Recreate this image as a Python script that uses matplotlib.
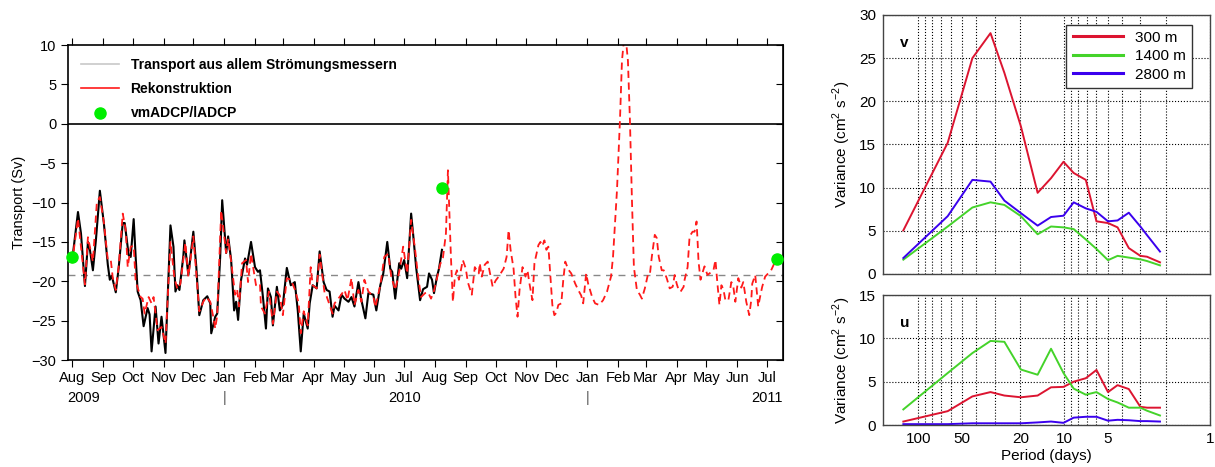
import numpy as np
import matplotlib
matplotlib.use('Agg')
import matplotlib.pyplot as plt
import matplotlib.dates as mdates
from matplotlib.lines import Line2D
from matplotlib.ticker import NullFormatter, FixedLocator

plt.rcParams['font.family'] = ['Liberation Sans', 'DejaVu Sans']
plt.rcParams['mathtext.fontset'] = 'custom'
plt.rcParams['mathtext.rm'] = 'Liberation Sans'

# ---- left panel: transport time series (days since 2009-08-01, Sv) ----
obs_days = [0, 6, 9, 13, 16, 18, 21, 24, 28, 32, 36, 38, 40, 44, 47, 51, 53, 57, 59, 62,
            64, 66, 69, 72, 76, 78, 80, 84, 87, 90, 94, 99, 102, 104, 106, 108, 112, 113,
            117, 122, 125, 128, 132, 136, 139, 140, 144, 146, 149, 151, 155, 157, 160, 163,
            165, 167, 170, 174, 176, 180, 184, 187, 189, 192, 195, 197, 200, 202, 206, 209,
            212, 216, 220, 224, 227, 230, 233, 237, 239, 242, 246, 249, 253, 256, 259, 262,
            264, 268, 271, 274, 278, 281, 284, 288, 291, 295, 298, 303, 306, 310, 313, 317,
            320, 322, 325, 329, 331, 334, 337, 341, 343, 346, 350, 353, 357, 359, 362, 364,
            367, 369, 372]
obs_vals = [-17.5, -11.2, -13.9, -20.6, -15.0, -16.0, -18.6, -14.8, -8.5, -12.6, -17.9, -19.8,
            -19.3, -21.4, -18.2, -12.6, -12.6, -16.7, -16.9, -12.1, -16.9, -21.3, -22.4, -25.7,
            -23.4, -24.2, -28.9, -23.2, -27.9, -24.5, -29.1, -12.9, -15.6, -21.3, -20.5, -21.1,
            -16.7, -14.8, -19.2, -13.7, -18.2, -24.3, -22.4, -21.9, -22.8, -26.6, -24.5, -24.1,
            -16.9, -9.7, -16.4, -14.3, -17.3, -23.7, -22.6, -24.9, -19.8, -17.1, -17.9, -15.0,
            -18.2, -18.8, -18.6, -22.0, -26.0, -20.9, -22.0, -25.6, -20.7, -23.7, -23.0, -18.3,
            -20.5, -20.1, -23.7, -28.9, -24.1, -26.0, -22.8, -20.5, -20.9, -16.2, -20.1, -21.1,
            -21.3, -24.5, -23.1, -23.7, -21.7, -22.2, -22.6, -22.0, -23.2, -20.1, -22.4, -24.7,
            -21.5, -21.7, -23.7, -20.5, -19.0, -15.0, -18.4, -18.8, -22.2, -17.7, -18.4, -17.3,
            -19.6, -11.4, -14.0, -18.2, -22.4, -21.0, -20.7, -19.0, -19.8, -21.5, -19.4, -18.4,
            -16.0]

rec_days = [0, 6, 13, 16, 21, 25, 28, 32, 36, 39, 41, 44, 47, 51, 54, 56, 59, 62, 64, 69,
            71, 73, 77, 80, 82, 86, 90, 94, 99, 103, 106, 109, 114, 117, 122, 124, 128, 132,
            135, 139, 142, 144, 146, 150, 155, 157, 160, 164, 166, 168, 171, 175, 177, 180,
            185, 189, 190, 194, 198, 202, 206, 209, 212, 216, 220, 224, 228, 230, 233, 237,
            240, 242, 246, 249, 254, 256, 262, 264, 269, 274, 277, 281, 284, 288, 291, 294,
            298, 303, 305, 310, 314, 318, 321, 325, 329, 333, 337, 341, 345, 348, 351, 355,
            358, 361, 364, 367, 370, 373, 376, 378, 379, 381, 383, 385, 387, 389, 391, 393,
            396, 398, 402, 405, 409, 410, 412, 415, 418, 420, 423, 426, 429, 434, 437, 439,
            441, 444, 446, 448, 450, 453, 456, 458, 460, 463, 465, 469, 471, 473, 475, 477,
            479, 481, 483, 485, 487, 489, 492, 494, 496, 499, 502, 506, 509, 512, 514, 517,
            519, 523, 526, 530, 534, 538, 542, 544, 546, 548, 551, 553, 556, 559, 561, 563,
            565, 568, 571, 573, 576, 579, 581, 583, 586, 588, 590, 593, 595, 598, 601, 604,
            606, 608, 610, 612, 615, 616, 619, 621, 624, 626, 628, 629, 630, 632, 634, 636,
            639, 641, 645, 647, 649, 651, 653, 655, 657, 660, 663, 665, 667, 670, 673, 675,
            678, 681, 683, 684, 687, 690, 692, 694, 697, 700, 703, 707]
rec_vals = [-17.7, -12.0, -20.4, -14.4, -17.5, -9.9, -9.3, -12.5, -17.3, -17.3, -19.6, -21.1,
            -18.0, -11.4, -13.5, -18.2, -15.6, -15.5, -20.0, -22.0, -22.2, -24.1, -22.0, -22.8,
            -22.0, -26.2, -25.8, -27.9, -15.0, -19.6, -21.0, -20.3, -15.1, -19.4, -14.3, -17.5,
            -23.8, -22.6, -22.0, -22.6, -24.5, -26.0, -24.3, -11.0, -16.4, -14.6, -17.5, -21.7,
            -21.0, -23.2, -17.7, -17.3, -20.1, -16.5, -20.5, -20.3, -23.2, -24.1, -21.3, -25.4,
            -21.3, -21.8, -24.3, -19.6, -19.8, -21.0, -22.8, -26.6, -23.8, -25.6, -18.2, -20.5,
            -20.9, -16.6, -21.5, -21.9, -24.1, -22.8, -22.0, -21.1, -22.4, -19.6, -23.0, -21.1,
            -22.6, -19.8, -21.3, -21.9, -23.3, -20.5, -16.9, -16.5, -19.4, -21.1, -18.8, -15.6,
            -19.0, -12.2, -16.0, -19.4, -22.0, -21.5, -21.4, -22.2, -21.2, -19.6, -17.9, -17.0,
            -13.9, -5.9, -9.7, -16.9, -22.6, -19.4, -18.6, -19.8, -18.6, -17.3, -18.4, -20.1,
            -21.7, -18.2, -19.0, -17.7, -19.4, -17.9, -17.5, -18.8, -20.7, -19.9, -19.4, -18.4,
            -16.9, -13.5, -16.0, -18.4, -22.0, -24.5, -21.1, -18.2, -19.4, -18.6, -20.3, -22.4,
            -17.7, -15.4, -15.0, -15.5, -14.8, -16.0, -15.6, -19.4, -23.0, -24.3, -24.0, -23.0,
            -22.8, -19.8, -17.5, -18.5, -19.0, -20.3, -21.1, -21.8, -22.8, -19.0, -20.3, -22.0,
            -22.8, -23.0, -22.4, -21.3, -19.4, -16.9, -12.6, -8.4, 0.5, 8.0, 12.0, 8.0, 0.5,
            -9.5, -18.2, -21.1, -21.7, -22.2, -20.9, -19.2, -19.2, -16.9, -14.1, -14.5, -16.9,
            -18.6, -18.6, -19.6, -20.9, -20.7, -19.2, -20.3, -21.1, -21.3, -20.7, -19.8, -18.2,
            -14.3, -13.7, -13.7, -12.4, -14.8, -17.5, -19.8, -18.9, -18.1, -19.2, -19.0, -18.6,
            -17.3, -20.3, -23.0, -20.5, -21.0, -22.4, -22.4, -20.1, -20.7, -22.6, -19.6, -20.8,
            -20.1, -22.6, -24.3, -22.4, -20.3, -19.2, -23.2, -21.9, -20.7, -19.4, -19.0, -18.6,
            -17.5]

adcp_days = [0, 372, 709]
adcp_vals = [-16.9, -8.1, -17.2]
mean_transport = -19.25

# ---- right panels: variance vs period ----
period = [126.8, 62.9, 42.6, 32.0, 25.7, 19.8, 15.2, 12.3, 10.1, 8.6, 7.1, 6.0, 5.0, 4.3,
          3.6, 3.0, 2.7, 2.2]
v_300 = [5.05, 15.2, 25.0, 27.9, 23.3, 17.1, 9.4, 11.1, 13.0, 11.7, 10.9, 6.1, 5.9, 5.4,
         3.0, 2.1, 2.0, 1.35]
v_1400 = [1.66, 5.5, 7.7, 8.3, 8.0, 6.7, 4.6, 5.5, 5.4, 5.2, 4.0, 2.9, 1.6, 2.1, 1.9, 1.7,
          1.5, 1.0]
v_2800 = [1.85, 6.7, 10.9, 10.7, 8.5, 7.05, 5.6, 6.6, 6.75, 8.3, 7.6, 7.2, 6.1, 6.2, 7.1,
          5.5, 4.5, 2.6]
u_300 = [0.4, 1.6, 3.3, 3.8, 3.4, 3.2, 3.4, 4.35, 4.4, 5.0, 5.4, 6.35, 3.8, 4.6, 4.15, 2.1,
         2.0, 2.0]
u_1400 = [1.8, 6.0, 8.3, 9.7, 9.6, 6.4, 5.8, 8.8, 6.0, 4.2, 3.5, 3.8, 3.0, 2.6, 2.0, 2.0,
          1.65, 1.1]
u_2800 = [0.1, 0.1, 0.2, 0.2, 0.2, 0.2, 0.3, 0.4, 0.25, 0.85, 0.95, 0.95, 0.5, 0.6, 0.55,
          0.45, 0.45, 0.4]

depth_labels = ['300 m', '1400 m', '2800 m']
depth_colors = ['#dc1430', '#44d32a', '#3a00ee']

base = np.datetime64('2009-08-01')
obs_t = base + np.array(obs_days).astype('timedelta64[D]')
rec_t = base + np.array(rec_days).astype('timedelta64[D]')
adcp_t = base + np.array(adcp_days).astype('timedelta64[D]')

fig = plt.figure(figsize=(12.15, 4.67), dpi=100)

# left panel
ax = fig.add_axes([0.056, 0.229, 0.5885, 0.6745])
ax.axhline(0, color='k', lw=1.2)
ax.axhline(mean_transport, color='#888888', lw=1.0, ls=(0, (5, 4)))
ax.plot(obs_t, obs_vals, color='k', lw=1.5)
ax.plot(rec_t, rec_vals, color='#ff1a1a', lw=1.3, ls=(0, (4, 2.5)))
ax.plot(adcp_t, adcp_vals, 'o', color='#00ee00', ms=8, clip_on=False, zorder=5)
ax.set_xlim(np.datetime64('2009-07-28'), np.datetime64('2011-07-17'))
ax.set_ylim(-30, 10)
ax.set_yticks(np.arange(-30, 11, 5))
ax.set_yticklabels([str(v).replace('-', '\u2212') for v in range(-30, 11, 5)])
ax.xaxis.set_major_locator(mdates.MonthLocator())
ax.xaxis.set_major_formatter(mdates.DateFormatter('%b'))
ax.tick_params(axis='x', direction='out', top=True, bottom=True, length=5, labelsize=10.5, pad=3)
ax.tick_params(axis='y', direction='out', left=True, right=False, length=5, labelsize=10.5)
sec = ax.secondary_yaxis('right')
sec.set_yticks(np.arange(-30, 11, 5))
sec.set_yticklabels([])
sec.tick_params(direction='in', length=5)
for s in ax.spines.values():
    s.set_linewidth(1.2)
ax.set_ylabel('Transport (Sv)', fontsize=10.5, labelpad=4)

trans = ax.get_xaxis_transform()
for txt, d in [('2009', '2009-08-13'), ('2010', '2010-07-01'), ('2011', '2011-07-01')]:
    ax.text(np.datetime64(d), -0.12, txt, transform=trans, ha='center', va='center', fontsize=10.5)
for d in ['2010-01-01', '2011-01-01']:
    ax.text(np.datetime64(d), -0.12, '|', transform=trans, ha='center', va='center',
            fontsize=10.5, color='#555555')

handles = [Line2D([], [], color='#c8c8c8', lw=1.2),
           Line2D([], [], color='#ff1a1a', lw=1.2),
           Line2D([], [], color='#00ee00', marker='o', ls='none', ms=8)]
ax.legend(handles, ['Transport aus allem Strömungsmessern', 'Rekonstruktion', 'vmADCP/lADCP'],
          loc='upper left', bbox_to_anchor=(0.0, 1.0), frameon=False, handlelength=2.8,
          labelspacing=0.75, prop={'weight': 'bold', 'size': 10})

# right panels
major_p = [100, 50, 20, 10, 5, 1]
minor_p = [90, 80, 70, 60, 40, 30, 9, 8, 7, 6, 4, 3, 2]


def style_panel(a, ymax, label, show_x):
    a.set_xscale('log')
    a.set_xlim(175, 1)
    a.set_ylim(0, ymax)
    a.set_yticks(np.arange(0, ymax + 1, 5))
    a.xaxis.set_major_locator(FixedLocator(major_p))
    a.xaxis.set_minor_locator(FixedLocator(minor_p))
    a.xaxis.set_minor_formatter(NullFormatter())
    if show_x:
        a.set_xticklabels([str(p) for p in major_p])
        a.set_xlabel('Period (days)', fontsize=11, labelpad=2)
    else:
        a.set_xticklabels([])
    a.tick_params(axis='both', which='both', length=0, labelsize=11, pad=5)
    a.grid(True, which='both', axis='x', ls=':', color='k', lw=0.8)
    a.grid(True, which='major', axis='y', ls=':', color='k', lw=0.8)
    a.set_axisbelow(True)
    for s in a.spines.values():
        s.set_color('#444444')
        s.set_linewidth(1.0)
    a.set_ylabel(r'Variance (cm$^{\mathregular{2}}$ s$^{\mathregular{-2}}$)', fontsize=11, labelpad=4)
    a.text(0.052, label[1], label[0], transform=a.transAxes, fontsize=11,
           fontweight='bold', va='center')


axv = fig.add_axes([0.7267, 0.4133, 0.2691, 0.5546])
for vals, lab, c in zip([v_300, v_1400, v_2800], depth_labels, depth_colors):
    axv.plot(period, vals, color=c, lw=1.4, label=lab)
style_panel(axv, 30, ('v', 0.89), False)
leg = axv.legend(loc='upper right', bbox_to_anchor=(0.955, 0.975), fancybox=False,
                 framealpha=1, edgecolor='#333333', fontsize=11, handlelength=3.3,
                 borderaxespad=0.2, labelspacing=0.3)
for h in leg.get_lines():
    h.set_linewidth(2.2)

axu = fig.add_axes([0.7267, 0.0899, 0.2691, 0.2784])
for vals, c in zip([u_300, u_1400, u_2800], depth_colors):
    axu.plot(period, vals, color=c, lw=1.4)
style_panel(axu, 15, ('u', 0.785), True)

fig.savefig('out.png', dpi=100)
